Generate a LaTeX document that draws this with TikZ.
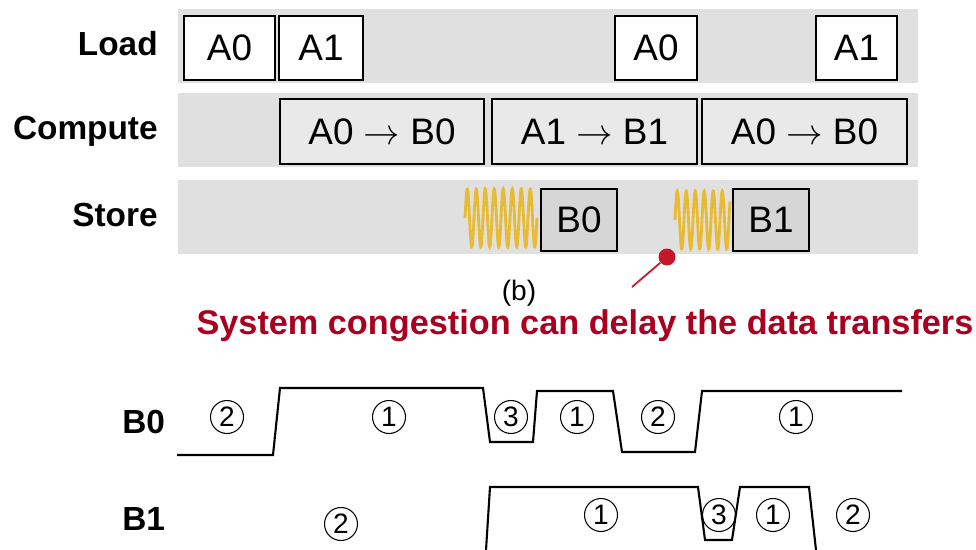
\documentclass[tikz,border=0pt]{standalone}
\usepackage{fontspec}
\setmainfont{Liberation Sans}
\usepackage{tikz}

\definecolor{bandgray}{HTML}{E0E0E0}
\definecolor{cpfill}{HTML}{E9E9E9}
\definecolor{stfill}{HTML}{D6D6D6}
\definecolor{springgold}{HTML}{E8BB35}
\definecolor{jamred}{HTML}{A8001E}
\definecolor{dotred}{HTML}{C4182A}

\tikzset{
    band/.style={fill=bandgray, draw=none},
    rowlabel/.style={font=\fontsize{19}{22}\selectfont\bfseries, inner sep=0pt},
    loadbox/.style={draw, line width=1.3pt, fill=white, inner sep=0pt, minimum height=1.28cm, font=\fontsize{21}{24}\selectfont},
    cpbox/.style={draw, line width=1.3pt, fill=cpfill, inner sep=0pt, minimum height=1.30cm, font=\fontsize{21}{24}\selectfont},
    stbox/.style={draw, line width=1.3pt, fill=stfill, inner sep=0pt, minimum height=1.24cm, font=\fontsize{21}{24}\selectfont},
    spring/.style={springgold, line width=1.6pt},
    wave/.style={line width=1.2pt, line join=miter},
    phase/.style={circle, draw, line width=0.6pt, minimum size=0.66cm, inner sep=0pt, font=\fontsize{16}{18}\selectfont}
}

\begin{document}
\begin{tikzpicture}[x=0.02cm, y=-0.02cm]
    \useasboundingbox (0,0) rectangle (976,550);

    % pipeline bands
    \fill[band] (178,9) rectangle (918,83);
    \fill[band] (178,93) rectangle (918,167);
    \fill[band] (178,180) rectangle (918,254);

    \node[rowlabel, anchor=base east] (lload) at (158,56) {Load};
    \node[rowlabel, anchor=base east] (lcomp) at (158,140) {Compute};
    \node[rowlabel, anchor=base east] (lstore) at (158,227) {Store};

    % load stage
    \node[loadbox, minimum width=1.82cm] (ld0) at (229.5,48) {A0};
    \node[loadbox, minimum width=1.68cm] (ld1) at (321,48) {A1};
    \node[loadbox, minimum width=1.64cm] (ld2) at (656,48) {A0};
    \node[loadbox, minimum width=1.62cm] (ld3) at (856.5,48) {A1};

    % compute stage
    \node[cpbox, minimum width=4.08cm] (cp0) at (382,131.5) {A0 $\rightarrow$ B0};
    \node[cpbox, minimum width=4.10cm] (cp1) at (594.5,131.5) {A1 $\rightarrow$ B1};
    \node[cpbox, minimum width=4.10cm] (cp2) at (804.5,131.5) {A0 $\rightarrow$ B0};

    % store stage, with the stalls before each write
    \draw[spring] plot[domain=465:537, samples=240] (\x, {218-29*sin(40*(\x-465))});
    \draw[spring] plot[domain=675:730, samples=200] (\x, {220-29*sin(40*(\x-675))});
    \node[stbox, minimum width=1.52cm] (st0) at (579,220) {B0};
    \node[stbox, minimum width=1.52cm] (st1) at (771,220) {B1};

    % congestion note
    \node[circle, fill=dotred, minimum size=0.34cm, inner sep=0pt] (jam) at (667,257) {};
    \coordinate (jamtail) at (632,287);
    \draw[dotred, line width=1pt] (jam) -- (jamtail);
    \node[anchor=base, font=\fontsize{16}{18}\selectfont] (cap) at (519,300) {(b)};
    \node[anchor=base, text=jamred, font=\fontsize{19.5}{22}\selectfont\bfseries] (note) at (585,335)
        {System congestion can delay the data transfers};

    % buffer states
    \node[rowlabel, anchor=base west] (lb0) at (122,433) {B0};
    \node[rowlabel, anchor=base west] (lb1) at (122,530) {B1};

    \draw[wave] (177,455) -- (273,455) -- (280,388) -- (483,388) -- (490,442) -- (533,442)
        -- (537,391) -- (613,391) -- (622,452) -- (695,452) -- (702,391) -- (902,391);
    \draw[wave] (486,550) -- (490,487) -- (698,487) -- (705,540) -- (732,540)
        -- (740,487) -- (809,487) -- (816,550);

    \node[phase] (b0a) at (227,417) {2};
    \node[phase] (b0b) at (389,417) {1};
    \node[phase] (b0c) at (511,417) {3};
    \node[phase] (b0d) at (577,417) {1};
    \node[phase] (b0e) at (658,417) {2};
    \node[phase] (b0f) at (796,417) {1};

    \node[phase] (b1a) at (341,524) {2};
    \node[phase] (b1b) at (601,515) {1};
    \node[phase] (b1c) at (719,515) {3};
    \node[phase] (b1d) at (773,515) {1};
    \node[phase] (b1e) at (853,515) {2};
\end{tikzpicture}
\end{document}
